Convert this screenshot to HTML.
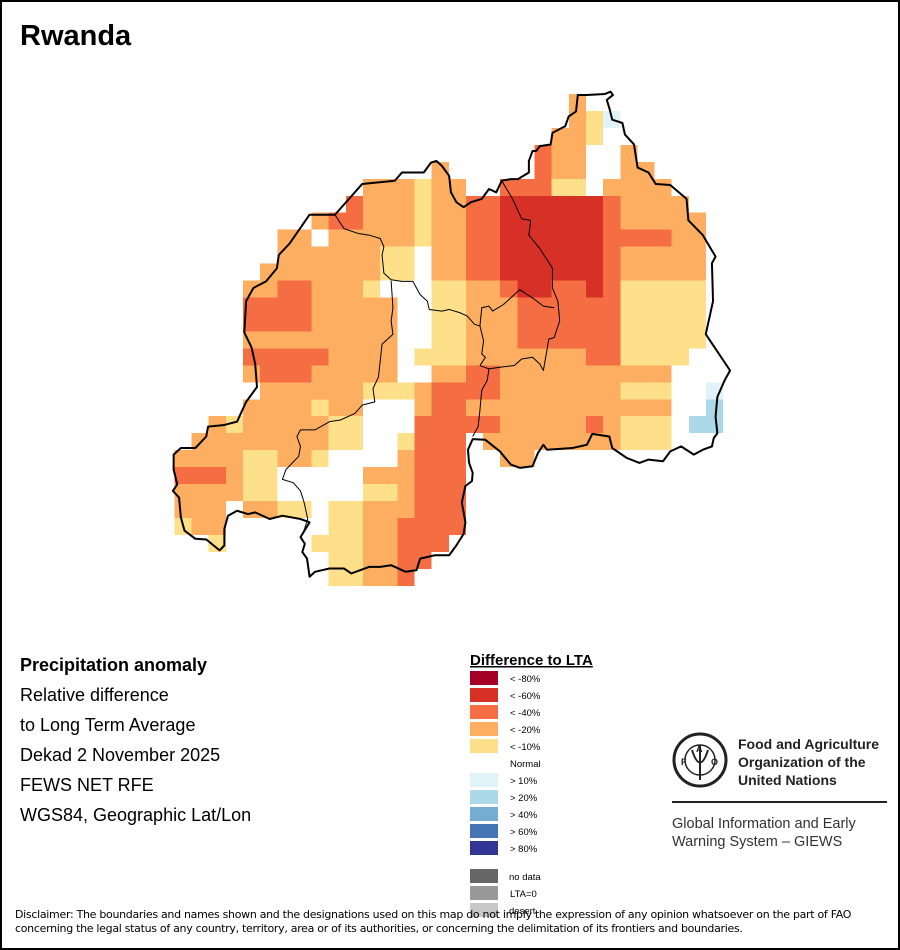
<!DOCTYPE html>
<html><head><meta charset="utf-8"><style>
html,body{margin:0;padding:0;background:#fff}
body{width:900px;height:950px;position:relative;overflow:hidden;font-family:"Liberation Sans",Arial,sans-serif}
.frame{position:absolute;left:0;top:0;width:896px;height:946px;border:2px solid #000}
.t{position:absolute;white-space:nowrap;color:#000}
</style></head><body>
<div class="frame"></div>
<div class="t" style="left:20px;top:20px;font-size:29px;font-weight:bold">Rwanda</div>

<svg width="900" height="950" style="position:absolute;left:0;top:0">
<g transform="translate(174.35,94) scale(17.15,16.96)" shape-rendering="crispEdges">
<g fill="#fdae61">
<rect x="23" y="0" width="1" height="1"/><rect x="23" y="1" width="1" height="1"/>
<rect x="22" y="2" width="2" height="1"/><rect x="22" y="3" width="2" height="1"/><rect x="26" y="3" width="1" height="1"/>
<rect x="15" y="4" width="1" height="1"/><rect x="22" y="4" width="2" height="1"/><rect x="26" y="4" width="2" height="1"/>
<rect x="11" y="5" width="3" height="1"/><rect x="15" y="5" width="2" height="1"/><rect x="25" y="5" width="4" height="1"/>
<rect x="11" y="6" width="3" height="1"/><rect x="15" y="6" width="2" height="1"/><rect x="26" y="6" width="4" height="1"/>
<rect x="8" y="7" width="1" height="1"/><rect x="11" y="7" width="3" height="1"/><rect x="15" y="7" width="2" height="1"/><rect x="26" y="7" width="5" height="1"/>
<rect x="6" y="8" width="2" height="1"/><rect x="9" y="8" width="5" height="1"/><rect x="15" y="8" width="2" height="1"/><rect x="29" y="8" width="2" height="1"/>
<rect x="6" y="9" width="6" height="1"/><rect x="15" y="9" width="2" height="1"/><rect x="26" y="9" width="5" height="1"/>
<rect x="5" y="10" width="7" height="1"/><rect x="15" y="10" width="2" height="1"/><rect x="26" y="10" width="5" height="1"/>
<rect x="4" y="11" width="2" height="1"/><rect x="8" y="11" width="3" height="1"/><rect x="17" y="11" width="2" height="1"/>
<rect x="8" y="12" width="5" height="1"/><rect x="17" y="12" width="3" height="1"/>
<rect x="8" y="13" width="5" height="1"/><rect x="17" y="13" width="3" height="1"/>
<rect x="4" y="14" width="9" height="1"/><rect x="17" y="14" width="3" height="1"/>
<rect x="9" y="15" width="4" height="1"/><rect x="17" y="15" width="7" height="1"/>
<rect x="4" y="16" width="1" height="1"/><rect x="8" y="16" width="5" height="1"/><rect x="15" y="16" width="2" height="1"/><rect x="19" y="16" width="10" height="1"/>
<rect x="5" y="17" width="6" height="1"/><rect x="14" y="17" width="1" height="1"/><rect x="19" y="17" width="7" height="1"/>
<rect x="4" y="18" width="4" height="1"/><rect x="9" y="18" width="2" height="1"/><rect x="14" y="18" width="1" height="1"/><rect x="17" y="18" width="12" height="1"/>
<rect x="2" y="19" width="1" height="1"/><rect x="4" y="19" width="5" height="1"/><rect x="19" y="19" width="5" height="1"/><rect x="25" y="19" width="1" height="1"/>
<rect x="1" y="20" width="8" height="1"/><rect x="18" y="20" width="8" height="1"/>
<rect x="0" y="21" width="4" height="1"/><rect x="6" y="21" width="2" height="1"/><rect x="13" y="21" width="1" height="1"/><rect x="19" y="21" width="2" height="1"/>
<rect x="3" y="22" width="1" height="1"/><rect x="11" y="22" width="3" height="1"/>
<rect x="0" y="23" width="4" height="1"/><rect x="13" y="23" width="1" height="1"/>
<rect x="0" y="24" width="3" height="1"/><rect x="4" y="24" width="2" height="1"/><rect x="11" y="24" width="3" height="1"/>
<rect x="1" y="25" width="2" height="1"/><rect x="11" y="25" width="2" height="1"/>
<rect x="11" y="26" width="2" height="1"/><rect x="11" y="27" width="2" height="1"/><rect x="11" y="28" width="2" height="1"/>
</g>
<g fill="#fee08b">
<rect x="24" y="1" width="1" height="1"/><rect x="24" y="2" width="1" height="1"/>
<rect x="14" y="5" width="1" height="1"/><rect x="22" y="5" width="2" height="1"/>
<rect x="14" y="6" width="1" height="1"/><rect x="14" y="7" width="1" height="1"/><rect x="14" y="8" width="1" height="1"/>
<rect x="12" y="9" width="2" height="1"/><rect x="12" y="10" width="2" height="1"/>
<rect x="11" y="11" width="1" height="1"/><rect x="15" y="11" width="2" height="1"/><rect x="26" y="11" width="5" height="1"/>
<rect x="15" y="12" width="2" height="1"/><rect x="26" y="12" width="5" height="1"/>
<rect x="15" y="13" width="2" height="1"/><rect x="26" y="13" width="5" height="1"/>
<rect x="15" y="14" width="2" height="1"/><rect x="26" y="14" width="5" height="1"/>
<rect x="14" y="15" width="3" height="1"/><rect x="26" y="15" width="4" height="1"/>
<rect x="11" y="17" width="3" height="1"/><rect x="26" y="17" width="3" height="1"/>
<rect x="8" y="18" width="1" height="1"/>
<rect x="3" y="19" width="1" height="1"/><rect x="9" y="19" width="2" height="1"/><rect x="26" y="19" width="3" height="1"/>
<rect x="9" y="20" width="2" height="1"/><rect x="13" y="20" width="1" height="1"/><rect x="26" y="20" width="3" height="1"/>
<rect x="4" y="21" width="2" height="1"/><rect x="8" y="21" width="1" height="1"/>
<rect x="4" y="22" width="2" height="1"/>
<rect x="4" y="23" width="2" height="1"/><rect x="11" y="23" width="2" height="1"/>
<rect x="6" y="24" width="2" height="1"/><rect x="9" y="24" width="2" height="1"/>
<rect x="0" y="25" width="1" height="1"/><rect x="9" y="25" width="2" height="1"/>
<rect x="2" y="26" width="1" height="1"/><rect x="8" y="26" width="3" height="1"/>
<rect x="9" y="27" width="2" height="1"/><rect x="9" y="28" width="2" height="1"/>
</g>
<g fill="#f46d43">
<rect x="21" y="3" width="1" height="1"/><rect x="21" y="4" width="1" height="1"/>
<rect x="19" y="5" width="3" height="1"/>
<rect x="10" y="6" width="1" height="1"/><rect x="17" y="6" width="2" height="1"/><rect x="25" y="6" width="1" height="1"/>
<rect x="9" y="7" width="2" height="1"/><rect x="17" y="7" width="2" height="1"/><rect x="25" y="7" width="1" height="1"/>
<rect x="17" y="8" width="2" height="1"/><rect x="25" y="8" width="4" height="1"/>
<rect x="17" y="9" width="2" height="1"/><rect x="25" y="9" width="1" height="1"/>
<rect x="17" y="10" width="2" height="1"/><rect x="25" y="10" width="1" height="1"/>
<rect x="6" y="11" width="2" height="1"/><rect x="19" y="11" width="1" height="1"/><rect x="22" y="11" width="2" height="1"/><rect x="25" y="11" width="1" height="1"/>
<rect x="4" y="12" width="4" height="1"/><rect x="20" y="12" width="6" height="1"/>
<rect x="4" y="13" width="4" height="1"/><rect x="20" y="13" width="6" height="1"/>
<rect x="20" y="14" width="6" height="1"/>
<rect x="4" y="15" width="5" height="1"/><rect x="24" y="15" width="2" height="1"/>
<rect x="5" y="16" width="3" height="1"/><rect x="17" y="16" width="2" height="1"/>
<rect x="15" y="17" width="4" height="1"/>
<rect x="15" y="18" width="2" height="1"/>
<rect x="14" y="19" width="5" height="1"/><rect x="24" y="19" width="1" height="1"/>
<rect x="14" y="20" width="3" height="1"/><rect x="14" y="21" width="3" height="1"/>
<rect x="0" y="22" width="3" height="1"/><rect x="14" y="22" width="3" height="1"/>
<rect x="14" y="23" width="3" height="1"/><rect x="14" y="24" width="3" height="1"/>
<rect x="13" y="25" width="4" height="1"/><rect x="13" y="26" width="3" height="1"/>
<rect x="13" y="27" width="2" height="1"/><rect x="13" y="28" width="1" height="1"/>
</g>
<g fill="#d73027">
<rect x="19" y="6" width="6" height="5"/><rect x="20" y="11" width="2" height="1"/><rect x="24" y="11" width="1" height="1"/>
</g>
<rect x="25" y="1" width="1" height="1" fill="#e0f3f8"/>
<rect x="31" y="17" width="1" height="1" fill="#e0f3f8"/>
<rect x="31" y="18" width="1" height="1" fill="#abd9e9"/>
<rect x="30" y="19" width="2" height="1" fill="#abd9e9"/>
</g>
<g transform="translate(170,90) scale(0.3625,0.33)" fill="none" stroke="#000" stroke-linejoin="round">
<path vector-effect="non-scaling-stroke" stroke-width="2" d="M1125,15 L1150,15 1200,12 1215,5 1222,15 1205,30 1212,55 1220,90 1248,100 1255,135 1280,165 1290,235 1320,250 1340,285 1380,288 1425,330 1430,395 1470,440 1505,505 1495,525 1498,640 1478,740 1545,850 1530,880 1510,930 1505,990 1510,1040 1500,1055 1495,1080 1470,1090 1445,1105 1410,1080 1380,1095 1360,1125 1320,1120 1295,1130 1260,1115 1240,1100 1220,1085 1212,1050 1165,1042 1150,1075 1110,1085 1040,1090 1030,1075 1015,1100 1000,1140 965,1145 940,1135 910,1095 870,1060 835,1058 822,1090 825,1130 835,1160 833,1185 815,1200 805,1250 815,1310 810,1345 790,1380 770,1410 730,1410 690,1420 680,1455 650,1460 610,1440 580,1445 550,1445 500,1465 480,1450 440,1450 400,1460 385,1475 378,1420 365,1400 372,1375 360,1355 385,1310 360,1300 310,1290 275,1300 235,1280 215,1285 185,1275 160,1290 150,1330 150,1380 137,1395 100,1362 70,1360 40,1335 30,1295 25,1235 8,1215 20,1195 10,1150 10,1105 30,1085 70,1085 100,1050 105,1020 150,1015 185,1005 210,945 240,900 235,830 225,780 205,735 210,640 230,600 265,580 295,540 300,500 330,465 385,378 455,378 530,285 620,275 640,250 700,250 720,220 735,215 750,230 770,260 775,310 790,340 810,355 830,340 860,330 880,300 900,310 915,275 940,270 960,270 990,250 990,215 1000,185 1010,185 1020,170 1050,165 1055,130 1090,110 1100,80 1120,65 Z"/>
<g stroke-width="1">
<path vector-effect="non-scaling-stroke" d="M455,378 L480,420 520,435 550,440 580,450 590,475 585,500 590,555 610,575 640,580 670,580 690,620 710,640 715,665 750,670 770,665 800,675 820,685 840,710 855,715"/>
<path vector-effect="non-scaling-stroke" d="M610,578 L615,660 610,700 615,740 585,770 580,820 575,870 560,905 565,945 530,955 510,980 470,1000 440,1005 400,1030 360,1030 350,1050 360,1080 355,1110 320,1150 310,1180 340,1190 360,1215 370,1250 380,1300 365,1350"/>
<path vector-effect="non-scaling-stroke" d="M915,275 L945,330 970,390 995,395 990,440 1020,480 1055,540 1055,600 1070,640 1075,700 1060,750 1045,755 1030,850 1020,830 1000,810 970,815 950,835 910,840 880,845 855,835"/>
<path vector-effect="non-scaling-stroke" d="M855,715 L860,660 880,655 890,670 920,650 940,630 965,605 1000,630 1030,655 1060,660"/>
<path vector-effect="non-scaling-stroke" d="M855,715 L865,760 860,800 870,810 855,835"/>
<path vector-effect="non-scaling-stroke" d="M880,845 L875,880 860,910 855,970 850,1020 835,1050"/>
</g>
</g>

<g>
<rect x="470" y="671" width="28" height="14" fill="#a50026"/>
<rect x="470" y="688" width="28" height="14" fill="#d73027"/>
<rect x="470" y="705" width="28" height="14" fill="#f46d43"/>
<rect x="470" y="722" width="28" height="14" fill="#fdae61"/>
<rect x="470" y="739" width="28" height="14" fill="#fee08b"/>
<rect x="470" y="773" width="28" height="14" fill="#e0f3f8"/>
<rect x="470" y="790" width="28" height="14" fill="#abd9e9"/>
<rect x="470" y="807" width="28" height="14" fill="#74add1"/>
<rect x="470" y="824" width="28" height="14" fill="#4575b4"/>
<rect x="470" y="841" width="28" height="14" fill="#313695"/>
<rect x="470" y="869" width="28" height="14" fill="#666"/>
<rect x="470" y="886" width="28" height="14" fill="#999"/>
<rect x="470" y="903" width="28" height="14" fill="#c8c8c8"/>
</g>
<g font-family="Liberation Sans, Arial, sans-serif" font-size="9.5" fill="#000">
<text x="510" y="682">&lt; -80%</text>
<text x="510" y="699">&lt; -60%</text>
<text x="510" y="716">&lt; -40%</text>
<text x="510" y="733">&lt; -20%</text>
<text x="510" y="750">&lt; -10%</text>
<text x="510" y="767">Normal</text>
<text x="510" y="784">&gt; 10%</text>
<text x="510" y="801">&gt; 20%</text>
<text x="510" y="818">&gt; 40%</text>
<text x="510" y="835">&gt; 60%</text>
<text x="510" y="852">&gt; 80%</text>
<text x="509" y="880">no data</text>
<text x="510" y="897">LTA=0</text>
<text x="509" y="914">desert</text>
</g>
<text x="470" y="665" font-family="Liberation Sans, Arial, sans-serif" font-size="15" font-weight="bold" text-decoration="underline">Difference to LTA</text>

<g stroke="#222" fill="none">
<circle cx="700" cy="760" r="26" stroke-width="3"/>
<circle cx="700" cy="760" r="15" stroke-width="1.5"/>
<path d="M700,745 L700,780 M692,750 Q700,775 708,750" stroke-width="2"/>
</g>
<g font-family="Liberation Sans, Arial, sans-serif" font-weight="bold" font-size="9" fill="#222">
<text x="681" y="765">F</text><text x="696" y="752">A</text><text x="711" y="765">O</text>
</g>
<g font-family="Liberation Sans, Arial, sans-serif" font-weight="bold" font-size="14" fill="#222">
<text x="738" y="749">Food and Agriculture</text>
<text x="738" y="767">Organization of the</text>
<text x="738" y="785">United Nations</text>
</g>
<line x1="672" y1="802" x2="887" y2="802" stroke="#222" stroke-width="2"/>
<g font-family="Liberation Sans, Arial, sans-serif" font-size="14.5" fill="#333">
<text x="672" y="828">Global Information and Early</text>
<text x="672" y="846">Warning System – GIEWS</text>
</g>
</svg>

<div class="t" style="left:20px;top:655px;font-size:18px;font-weight:bold">Precipitation anomaly</div>
<div class="t" style="left:20px;top:685px;font-size:18px">Relative difference</div>
<div class="t" style="left:20px;top:715px;font-size:18px">to Long Term Average</div>
<div class="t" style="left:20px;top:745px;font-size:18px">Dekad 2 November 2025</div>
<div class="t" style="left:20px;top:775px;font-size:18px">FEWS NET RFE</div>
<div class="t" style="left:20px;top:805px;font-size:18px">WGS84, Geographic Lat/Lon</div>
<div class="t" style="left:15px;top:908px;font-size:11px;line-height:14px;font-family:'DejaVu Sans',sans-serif;letter-spacing:-0.3px">Disclaimer: The boundaries and names shown and the designations used on this map do not imply the expression of any opinion whatsoever on the part of FAO<br>concerning the legal status of any country, territory, area or of its authorities, or concerning the delimitation of its frontiers and boundaries.</div>
</body></html>
